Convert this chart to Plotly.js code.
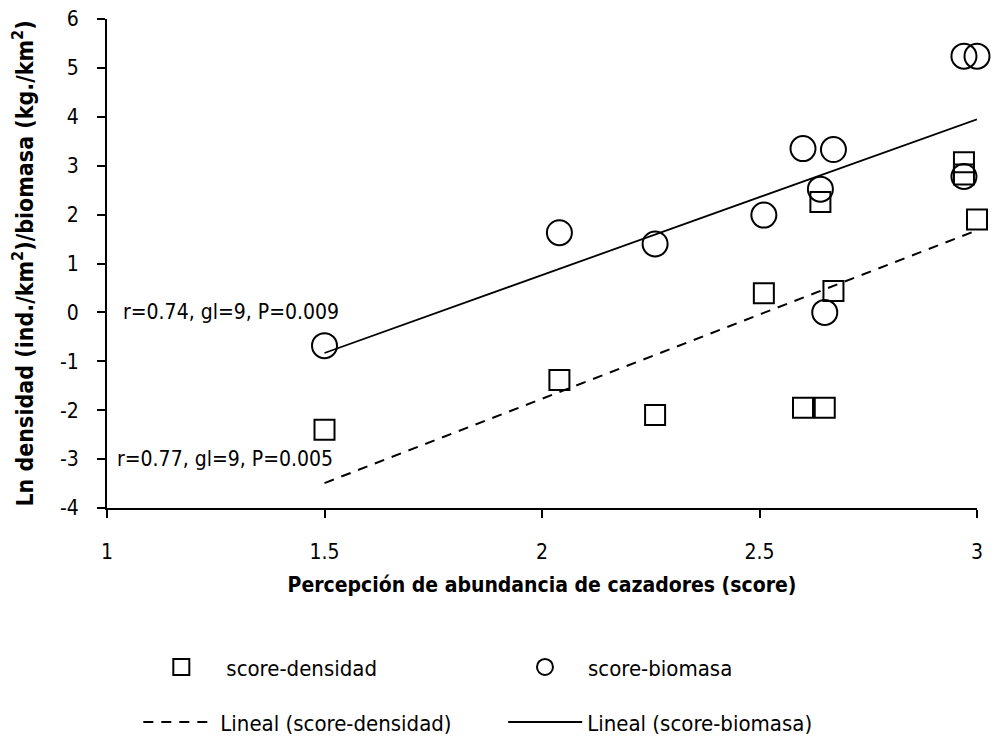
<!DOCTYPE html>
<html>
<head>
<meta charset="utf-8">
<script src="https://cdn.plot.ly/plotly-3.0.1.min.js"></script>
<style>html,body{margin:0;padding:0;background:#fff;}#chart{width:995px;height:739px;}</style>
</head>
<body>
<div id="chart"></div>
<script>
// Data
const scoreX = [1.5, 2.04, 2.26, 2.51, 2.6, 2.64, 2.65, 2.67, 2.97, 2.97, 3.0];
const densidad = [-2.40, -1.38, -2.10, 0.39, -1.95, 2.26, -1.95, 0.44, 3.07, 2.82, 1.90];
const biomasaX = [1.5, 2.04, 2.26, 2.51, 2.6, 2.64, 2.65, 2.67, 2.97, 2.97, 3.0];
const biomasa = [-0.68, 1.63, 1.40, 1.99, 3.35, 2.52, 0.00, 3.33, 2.78, 5.24, 5.24];
const trendX = [1.5, 3.0];
const trendDensidad = [-3.49, 1.68];
const trendBiomasa = [-0.83, 3.95];
const xTicks = [1, 1.5, 2, 2.5, 3];
const yTicks = [-4, -3, -2, -1, 0, 1, 2, 3, 4, 5, 6];
const statsBiomasa = "r=0.74, gl=9, P=0.009";
const statsDensidad = "r=0.77, gl=9, P=0.005";

const FONT = "DejaVu Sans Condensed, Liberation Sans Narrow, Arial Narrow, sans-serif";

const traces = [
  {x: scoreX, y: densidad, type: 'scatter', mode: 'markers', name: 'score-densidad', legend: 'legend', cliponaxis: false,
   marker: {symbol: 'square-open', size: 20, color: '#000', line: {width: 2, color: '#000'}}},
  {x: biomasaX, y: biomasa, type: 'scatter', mode: 'markers', name: 'score-biomasa', legend: 'legend2', cliponaxis: false,
   marker: {symbol: 'circle-open', size: 25, color: '#000', line: {width: 2, color: '#000'}}},
  {x: trendX, y: trendDensidad, type: 'scatter', mode: 'lines', name: 'Lineal (score-densidad)', legend: 'legend3', cliponaxis: false,
   line: {color: '#000', width: 2, dash: '10px,8px'}},
  {x: trendX, y: trendBiomasa, type: 'scatter', mode: 'lines', name: 'Lineal (score-biomasa)', legend: 'legend4', cliponaxis: false,
   line: {color: '#000', width: 1.8}}
];

const legBase = {orientation: 'h', xanchor: 'left', yanchor: 'middle', bgcolor: 'rgba(0,0,0,0)',
  font: {family: FONT, size: 22, color: '#000'}};

const layout = {
  width: 995, height: 739,
  margin: {l: 107, r: 18, t: 19, b: 231, autoexpand: false},
  paper_bgcolor: '#fff', plot_bgcolor: '#fff',
  font: {family: FONT, size: 20, color: '#000'},
  showlegend: true,
  xaxis: {
    range: [1, 3], tickvals: xTicks, ticktext: xTicks.map(String),
    showgrid: false, zeroline: false, showline: true, linecolor: '#000', linewidth: 2,
    ticks: 'outside', ticklen: 8, tickwidth: 2, tickcolor: '#000', ticklabelstandoff: 16,
    tickfont: {family: FONT, size: 21},
    title: {text: '<b>Percepción de abundancia de cazadores (score)</b>', font: {family: FONT, size: 21}, standoff: 14}
  },
  yaxis: {
    range: [-4, 6], tickvals: yTicks, ticktext: yTicks.map(String),
    showgrid: false, zeroline: false, showline: true, linecolor: '#000', linewidth: 2,
    ticks: 'outside', ticklen: 8, tickwidth: 2, tickcolor: '#000', ticklabelstandoff: 14,
    tickfont: {family: FONT, size: 21},
    title: {text: '<b>Ln densidad (ind./km<sup>2</sup>)/biomasa (kg./km<sup>2</sup>)</b>', font: {family: FONT, size: 23}, standoff: 20}
  },
  annotations: [
    {x: 1.033, y: 0.0, xref: 'x', yref: 'y', text: statsBiomasa, showarrow: false, xanchor: 'left', yanchor: 'middle',
     font: {family: FONT, size: 21, color: '#000'}},
    {x: 1.019, y: -3.0, xref: 'x', yref: 'y', text: statsDensidad, showarrow: false, xanchor: 'left', yanchor: 'middle',
     font: {family: FONT, size: 21, color: '#000'}}
  ],
  legend: Object.assign({}, legBase, {x: 0.0337, y: -0.3255, itemwidth: 80}),
  legend2: Object.assign({}, legBase, {x: 0.454, y: -0.3255, itemwidth: 76}),
  legend3: Object.assign({}, legBase, {x: 0.036, y: -0.438, itemwidth: 72}),
  legend4: Object.assign({}, legBase, {x: 0.4554, y: -0.438, itemwidth: 74})
};

Plotly.newPlot('chart', traces, layout, {staticPlot: true, displayModeBar: false});
</script>
</body>
</html>
